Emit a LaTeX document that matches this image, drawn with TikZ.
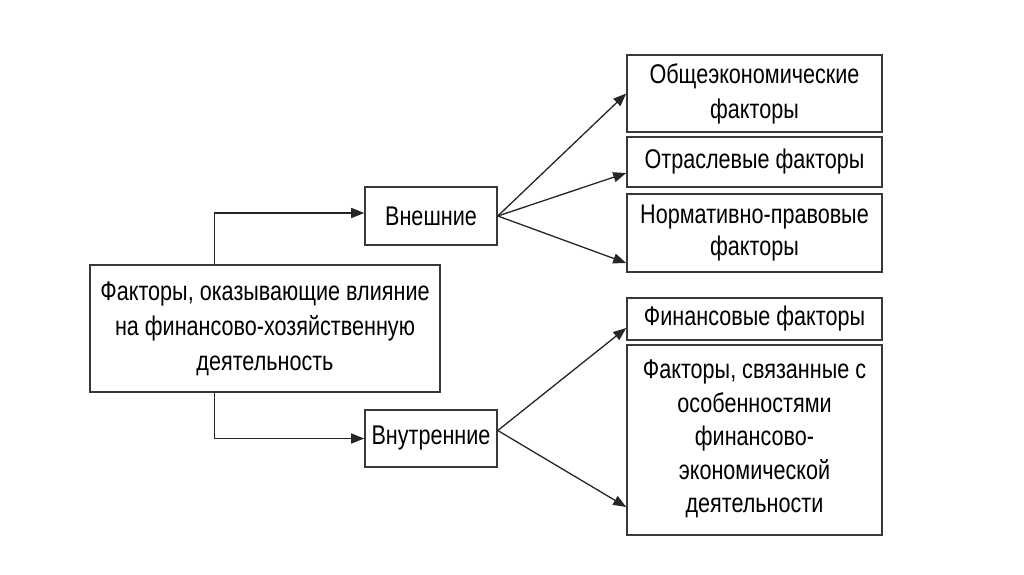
\documentclass[tikz,border=0pt]{standalone}
\usepackage{fontspec}
\setmainfont{Liberation Sans}[FakeStretch=0.80]
\usetikzlibrary{arrows.meta}
\begin{document}
\begin{tikzpicture}[x=1pt,y=-1pt,
 box/.style={draw=black!78, line width=1.6pt, inner sep=0pt, align=center, text=black},
 fa/.style={font=\fontsize{27}{35}\selectfont},
 fb/.style={font=\fontsize{27}{32}\selectfont},
 fc/.style={font=\fontsize{27}{33.5}\selectfont},
 arr/.style={-{Triangle[length=13pt,width=10pt]}, line width=1.3pt, draw=black!85}]
\useasboundingbox[fill=white] (0,0) rectangle (1024,574);
\node[box,fa,minimum width=350pt,minimum height=127pt] (main) at (265,328.5) {Факторы, оказывающие влияние\\на финансово-хозяйственную\\деятельность};
\node[box,fa,minimum width=132pt,minimum height=58pt] (vn) at (431,216) {Внешние};
\node[box,fa,minimum width=132pt,minimum height=57pt] (vt) at (431,438.5) {Внутренние};
\node[box,fa,minimum width=255pt,minimum height=77pt] (r1) at (754.5,93.5) {Общеэкономические\\факторы};
\node[box,fa,minimum width=255pt,minimum height=50pt] (r2) at (754.5,162) {Отраслевые факторы};
\node[box,fb,minimum width=255pt,minimum height=78pt] (r3) at (754.5,233) {Нормативно-правовые\\факторы};
\node[box,fa,minimum width=255pt,minimum height=42pt] (r4) at (754.5,319) {Финансовые факторы};
\node[box,minimum width=255pt,minimum height=190pt] (r5) at (754.5,440) {};
\node[fc,align=center,inner sep=0pt] (r5t) at (754.5,439) {Факторы, связанные с\\особенностями\\финансово-\\экономической\\деятельности};
\draw[arr] ([xshift=125pt]main.north west) |- ([yshift=3pt]vn.west);
\draw[arr] ([xshift=125pt]main.south west) |- (vt.west);
\draw[arr] (vn.east) -- (r1.west);
\draw[arr] (vn.east) -- ([yshift=-11pt]r2.west);
\draw[arr] (vn.east) -- ([yshift=-30pt]r3.west);
\draw[arr] ([yshift=8pt]vt.east) -- ([yshift=-9pt]r4.west);
\draw[arr] ([yshift=8pt]vt.east) -- ([yshift=-67pt]r5.west);
\end{tikzpicture}
\end{document}
